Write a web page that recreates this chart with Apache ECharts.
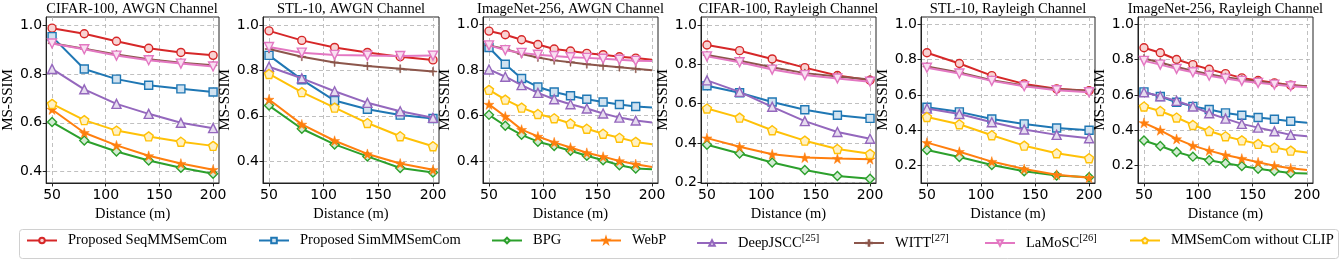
<!DOCTYPE html>
<html><head><meta charset="utf-8">
<script src="https://cdn.jsdelivr.net/npm/echarts@6/dist/echarts.min.js"></script>
<style>html,body{margin:0;padding:0;background:#fff}#c{width:1343px;height:260px}</style>
</head><body><div id="c"></div>
<script>
// ---------------- DATA ----------------
const methods = ['Proposed SeqMMSemCom','Proposed SimMMSemCom','BPG','WebP','DeepJSCC','WITT','LaMoSC','MMSemCom without CLIP'];
const methodRefs = ['','','','','[25]','[27]','[26]',''];
const distances6 = [50,80,110,140,170,200];
const distances11 = [50,65,80,95,110,125,140,155,170,185,200];
const xTicks = [50,100,150,200];
const yTicksHigh = [0.4,0.6,0.8,1.0];
const yTicksLow = [0.2,0.4,0.6,0.8,1.0];
const panelTitles = ['CIFAR-100, AWGN Channel','STL-10, AWGN Channel','ImageNet-256, AWGN Channel','CIFAR-100, Rayleigh Channel','STL-10, Rayleigh Channel','ImageNet-256, Rayleigh Channel'];
const xAxisName = 'Distance (m)';
const yAxisName = 'MS-SSIM';

// rows follow the order of `methods`
const cifarAwgn = [
  [0.990,0.967,0.936,0.907,0.890,0.878],
  [0.955,0.822,0.780,0.755,0.740,0.727],
  [0.603,0.527,0.482,0.445,0.415,0.390],
  [0.655,0.559,0.507,0.464,0.432,0.407],
  [0.822,0.738,0.678,0.637,0.600,0.578],
  [0.928,0.905,0.882,0.862,0.848,0.837],
  [0.927,0.903,0.877,0.858,0.844,0.832],
  [0.678,0.611,0.568,0.544,0.522,0.505]
];
const stlAwgn = [
  [0.974,0.932,0.901,0.879,0.860,0.846],
  [0.866,0.759,0.667,0.629,0.603,0.588],
  [0.645,0.543,0.474,0.421,0.370,0.350],
  [0.672,0.562,0.490,0.432,0.390,0.362],
  [0.816,0.765,0.708,0.657,0.620,0.591],
  [0.894,0.860,0.835,0.819,0.807,0.795],
  [0.903,0.878,0.868,0.865,0.863,0.865],
  [0.784,0.704,0.636,0.568,0.510,0.466]
];
const imagenetAwgn = [
  [0.972,0.956,0.934,0.913,0.893,0.884,0.874,0.868,0.859,0.853,0.846],
  [0.900,0.826,0.763,0.726,0.704,0.687,0.672,0.660,0.649,0.640,0.635],
  [0.603,0.555,0.515,0.485,0.466,0.445,0.423,0.403,0.381,0.367,0.364],
  [0.649,0.596,0.538,0.508,0.482,0.459,0.436,0.419,0.400,0.386,0.373],
  [0.803,0.771,0.734,0.700,0.672,0.650,0.631,0.609,0.591,0.578,0.569],
  [0.909,0.893,0.871,0.856,0.843,0.835,0.826,0.819,0.813,0.806,0.800],
  [0.909,0.888,0.876,0.868,0.862,0.857,0.854,0.850,0.846,0.841,0.840],
  [0.713,0.670,0.635,0.607,0.588,0.565,0.542,0.520,0.502,0.484,0.474]
];
const cifarRayleigh = [
  [0.898,0.869,0.827,0.783,0.743,0.719],
  [0.691,0.655,0.608,0.569,0.541,0.525],
  [0.391,0.347,0.301,0.263,0.233,0.218],
  [0.425,0.381,0.343,0.326,0.321,0.318],
  [0.718,0.660,0.584,0.511,0.456,0.422],
  [0.847,0.818,0.785,0.755,0.738,0.723],
  [0.840,0.810,0.773,0.745,0.728,0.711],
  [0.575,0.529,0.465,0.412,0.370,0.345]
];
const stlRayleigh = [
  [0.838,0.777,0.709,0.662,0.634,0.623],
  [0.530,0.504,0.464,0.436,0.413,0.400],
  [0.289,0.249,0.204,0.168,0.145,0.134],
  [0.330,0.279,0.223,0.181,0.149,0.132],
  [0.523,0.492,0.445,0.404,0.374,0.355],
  [0.760,0.726,0.683,0.653,0.632,0.623],
  [0.753,0.721,0.679,0.649,0.626,0.615],
  [0.475,0.434,0.372,0.313,0.270,0.242]
];
const imagenetRayleigh = [
  [0.866,0.838,0.800,0.771,0.745,0.720,0.696,0.681,0.668,0.655,0.649],
  [0.617,0.591,0.558,0.535,0.517,0.498,0.485,0.472,0.462,0.451,0.443],
  [0.342,0.311,0.277,0.251,0.230,0.213,0.198,0.183,0.170,0.158,0.155],
  [0.442,0.400,0.351,0.313,0.285,0.260,0.240,0.219,0.200,0.185,0.175],
  [0.615,0.592,0.566,0.534,0.496,0.466,0.436,0.415,0.394,0.374,0.366],
  [0.806,0.783,0.757,0.736,0.717,0.700,0.687,0.676,0.664,0.655,0.649],
  [0.792,0.771,0.747,0.728,0.708,0.692,0.679,0.668,0.658,0.649,0.643],
  [0.534,0.509,0.472,0.430,0.396,0.366,0.343,0.323,0.302,0.285,0.275]
];

// ---------------- LAYOUT / STYLE ----------------
const panels = [
  {values: cifarAwgn,        xs: distances6,  yTicks: yTicksHigh, ymin: 0.352, ymax: 1.036, left: 45,   width: 174, trimLast: false},
  {values: stlAwgn,          xs: distances6,  yTicks: yTicksHigh, ymin: 0.304, ymax: 1.035, left: 263,  width: 176, trimLast: false},
  {values: imagenetAwgn,     xs: distances11, yTicks: yTicksHigh, ymin: 0.303, ymax: 1.034, left: 483,  width: 175, trimLast: true},
  {values: cifarRayleigh,    xs: distances6,  yTicks: yTicksLow,  ymin: 0.197, ymax: 1.040, left: 701,  width: 175, trimLast: false},
  {values: stlRayleigh,      xs: distances6,  yTicks: yTicksLow,  ymin: 0.102, ymax: 1.040, left: 921,  width: 174, trimLast: false},
  {values: imagenetRayleigh, xs: distances11, yTicks: yTicksLow,  ymin: 0.102, ymax: 1.040, left: 1138, width: 175, trimLast: true}
];
const TOP = 17, HEIGHT = 166;
const colors = ['#d62728','#1f77b4','#2ca02c','#ff7f0e','#9467bd','#8c564b','#e377c2','#ffc107'];
const fills  = ['#f8d3d3','#d0e2f0','#d3ecd3','#ff7f0e','#e6dcef','#8c564b','#f9e0f2','#fff1c4'];
const symbols = [
  'circle','rect','diamond',
  'path://M50,0 L61,35 L98,35 L68,57 L79,91 L50,70 L21,91 L32,57 L2,35 L39,35 Z',
  'triangle',
  'path://M44,0 L56,0 L56,44 L100,44 L100,56 L56,56 L56,100 L44,100 L44,56 L0,56 L0,44 L44,44 Z',
  'path://M0,0 L100,0 L50,87 Z',
  'path://M50,0 L98,35 L79,91 L21,91 L2,35 Z'
];
const symbolSizes = [8,8,9,10,9,8,9,9];
const legendLefts = [26,258,491,590,696,853,984,1129];
const serif = 'Liberation Serif';
const sans = 'DejaVu Sans';

const grids = [], xAxes = [], yAxes = [], titles = [], series = [];
panels.forEach((p, i) => {
  grids.push({left: p.left, top: TOP, width: p.width, height: HEIGHT, show: true,
    borderColor: '#222', borderWidth: 1, backgroundColor: '#fff', containLabel: false});
  titles.push({text: panelTitles[i], left: p.left + p.width / 2, top: 1.5, textAlign: 'center', padding: 0,
    textStyle: {fontFamily: serif, fontSize: 14.5, fontWeight: 'normal', color: '#000'}});
  const split = {show: true, lineStyle: {color: '#b0b0b0', width: 0.8, type: [4, 3]}};
  xAxes.push({type: 'value', gridIndex: i, min: 44.5, max: 205.5,
    name: xAxisName, nameLocation: 'middle', nameGap: 15,
    nameTextStyle: {fontFamily: serif, fontSize: 14.5, color: '#000'},
    axisLine: {show: true, onZero: false, lineStyle: {color: '#222', width: 1}},
    axisTick: {show: true, length: 3.5, customValues: xTicks, lineStyle: {color: '#222'}},
    axisLabel: {customValues: xTicks, fontFamily: sans, fontSize: 14, color: '#000', margin: 5},
    splitLine: split});
  yAxes.push({type: 'value', gridIndex: i, min: p.ymin, max: p.ymax,
    name: yAxisName, nameLocation: 'middle', nameGap: 27,
    nameTextStyle: {fontFamily: serif, fontSize: 15, color: '#000'},
    axisLine: {show: true, onZero: false, lineStyle: {color: '#222', width: 1}},
    axisTick: {show: true, length: 3.5, customValues: p.yTicks, lineStyle: {color: '#222'}},
    axisLabel: {customValues: p.yTicks, fontFamily: sans, fontSize: 14, color: '#000', margin: 4,
      formatter: v => v.toFixed(1)},
    splitLine: split});
  methods.forEach((m, j) => {
    const vals = p.values[j];
    const data = p.xs.map((x, k) => (p.trimLast && k === p.xs.length - 1)
      ? {value: [x, vals[k]], symbol: 'none'} : [x, vals[k]]);
    series.push({type: 'line', name: m, xAxisIndex: i, yAxisIndex: i, data,
      symbol: symbols[j], symbolSize: symbolSizes[j], showAllSymbol: true,
      lineStyle: {color: colors[j], width: 2},
      itemStyle: {color: fills[j], borderColor: colors[j], borderWidth: (j === 3 || j === 5) ? 0.5 : 1.4},
      emphasis: {disabled: true}, silent: true, z: 2 + j, animation: false});
  });
});

const legends = methods.map((m, j) => ({
  data: [m], left: legendLefts[j], top: 233, padding: 0, itemWidth: 30, itemHeight: 7,
  selectedMode: false,
  formatter: name => methodRefs[j] ? '{a|' + name + '}{s|' + methodRefs[j] + '}' : '{a|' + name + '}',
  textStyle: {fontFamily: serif, fontSize: 14.5, color: '#000', padding: [0, 0, 0, 6],
    rich: {a: {fontFamily: serif, fontSize: 14.5, color: '#000'},
           s: {fontFamily: serif, fontSize: 10.5, color: '#000', padding: [0, 0, 9, 0]}}}
}));

const chart = echarts.init(document.getElementById('c'), null, {renderer: 'canvas'});
chart.setOption({
  animation: false,
  backgroundColor: '#fff',
  title: titles,
  grid: grids,
  xAxis: xAxes,
  yAxis: yAxes,
  legend: legends,
  graphic: [{type: 'rect', left: 17, top: 227, shape: {width: 1319, height: 29, r: 3},
    style: {fill: 'none', stroke: '#d0d0d0', lineWidth: 1}, silent: true}],
  series
});
</script></body></html>
